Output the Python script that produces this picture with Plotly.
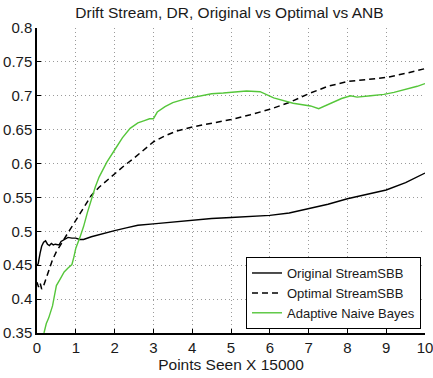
import plotly.graph_objects as go

# Accuracy curves vs. points seen (in units of 15000)
orig_x = [0, 0.03, 0.08, 0.12, 0.17, 0.22, 0.27, 0.32, 0.37, 0.42, 0.47, 0.52, 0.57, 0.62, 0.7, 0.8, 0.9,
          1.0, 1.1, 1.2, 1.4, 1.7, 2.0, 2.3, 2.6, 3.0, 3.5, 4.0, 4.5, 5.0, 5.5, 6.0, 6.5, 7.0, 7.5,
          8.0, 8.5, 9.0, 9.5, 10.0]
orig_y = [0.45, 0.452, 0.468, 0.478, 0.484, 0.486, 0.481, 0.479, 0.482, 0.480, 0.481, 0.481, 0.480, 0.485,
          0.488, 0.491, 0.490, 0.490, 0.488, 0.488, 0.492, 0.497, 0.501, 0.505, 0.509, 0.511, 0.514,
          0.517, 0.519, 0.5205, 0.522, 0.5235, 0.527, 0.533, 0.540, 0.548, 0.554, 0.561, 0.572, 0.586]

opt_x = [0, 0.04, 0.08, 0.12, 0.16, 0.2, 0.3, 0.4, 0.5, 0.6, 0.7, 0.8, 0.9, 1.0, 1.1, 1.2, 1.3, 1.4,
         1.6, 1.8, 2.0, 2.25, 2.5, 2.75, 3.0, 3.3, 3.6, 4.0, 4.5, 5.0, 5.5, 6.0, 6.5, 7.0, 7.5,
         8.0, 8.5, 9.0, 9.5, 10.0]
opt_y = [0.425, 0.418, 0.424, 0.415, 0.418, 0.425, 0.44, 0.458, 0.47, 0.48, 0.488, 0.498, 0.507, 0.516,
         0.525, 0.535, 0.545, 0.553, 0.565, 0.575, 0.585, 0.597, 0.608, 0.62, 0.632, 0.641, 0.648,
         0.654, 0.659, 0.665, 0.672, 0.68, 0.69, 0.703, 0.714, 0.721, 0.724, 0.727, 0.733, 0.740]

anb_x = [0.18, 0.24, 0.3, 0.4, 0.45, 0.5, 0.6, 0.7, 0.8, 0.9, 0.95, 1.0, 1.1, 1.2, 1.3, 1.4, 1.5,
         1.6, 1.8, 2.0, 2.2, 2.4, 2.6, 2.75, 2.9, 3.0, 3.1, 3.3, 3.5, 3.8, 4.2, 4.5, 4.8, 5.1, 5.4,
         5.75, 6.1, 6.6, 7.05, 7.26, 7.45, 7.65, 7.85, 8.08, 8.25, 8.6, 8.94, 9.2, 9.5, 9.8, 10.0]
anb_y = [0.35, 0.364, 0.372, 0.39, 0.405, 0.42, 0.43, 0.44, 0.446, 0.451, 0.462, 0.475, 0.49, 0.507,
         0.528, 0.548, 0.565, 0.58, 0.602, 0.62, 0.638, 0.652, 0.66, 0.663, 0.666, 0.666, 0.676,
         0.684, 0.69, 0.695, 0.699, 0.703, 0.704, 0.705, 0.707, 0.706, 0.697, 0.689, 0.685, 0.681,
         0.686, 0.691, 0.696, 0.700, 0.698, 0.700, 0.702, 0.705, 0.709, 0.714, 0.718]

series_names = ["Original StreamSBB", "Optimal StreamSBB", "Adaptive Naive Bayes"]

x_ticks = list(range(0, 11))
y_ticks = [0.35, 0.4, 0.45, 0.5, 0.55, 0.6, 0.65, 0.7, 0.75, 0.8]
y_labels = ["0.35", "0.4", "0.45", "0.5", "0.55", "0.6", "0.65", "0.7", "0.75", "0.8"]

fig = go.Figure()
fig.add_trace(go.Scatter(x=orig_x, y=orig_y, mode="lines", name=series_names[0],
                         line=dict(color="black", width=1.4)))
fig.add_trace(go.Scatter(x=opt_x, y=opt_y, mode="lines", name=series_names[1],
                         line=dict(color="black", width=1.5, dash="6px,4px")))
fig.add_trace(go.Scatter(x=anb_x, y=anb_y, mode="lines", name=series_names[2],
                         line=dict(color="#55c63a", width=1.4)))

font = "Liberation Sans, Arial, sans-serif"
grid_dash = "1px,3px"
fig.update_layout(
    width=433, height=378,
    margin=dict(l=37, r=8, t=28, b=45),
    paper_bgcolor="white", plot_bgcolor="white",
    font=dict(family=font, size=15, color="#1a1a1a"),
    title=dict(text="Drift Stream, DR, Original vs Optimal vs ANB", x=0.53, xanchor="center",
               y=0.968, yanchor="middle", font=dict(size=15.5, color="#1a1a1a")),
    showlegend=True,
    legend=dict(x=0.9897, xanchor="right", y=0.013, yanchor="bottom",
                bgcolor="white", bordercolor="black", borderwidth=1,
                font=dict(size=13, color="#1a1a1a"), tracegroupgap=0,
                itemwidth=30),
    xaxis=dict(range=[0, 10], tickvals=x_ticks, ticks="inside", ticklen=4, tickcolor="black",
               showline=True, linecolor="black", linewidth=1.5, mirror=False, automargin=False,
               ticklabeloverflow="allow",
               showgrid=True, gridcolor="#9a9a9a", griddash=grid_dash, gridwidth=1,
               zeroline=False, title=dict(text="Points Seen X 15000", standoff=4,
                                          font=dict(size=15.5))),
    yaxis=dict(range=[0.35, 0.8], tickvals=y_ticks, ticktext=y_labels, ticks="inside",
               ticklen=4, tickcolor="black", automargin=False, ticklabeloverflow="allow",
               showline=True, linecolor="black", linewidth=1.5, mirror=False,
               showgrid=True, gridcolor="#9a9a9a", griddash=grid_dash, gridwidth=1,
               zeroline=False),
)

fig.write_html("out.html")
